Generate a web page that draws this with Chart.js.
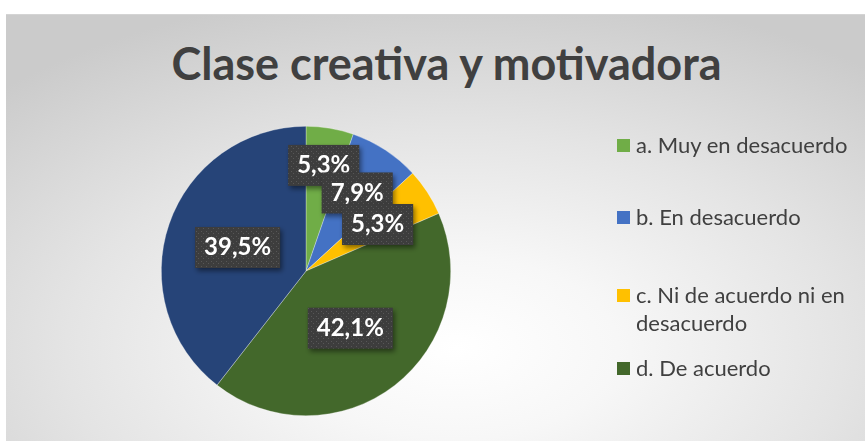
<!DOCTYPE html>
<html>
<head>
<meta charset="utf-8">
<script src="https://cdn.jsdelivr.net/npm/chart.js@4.4.1/dist/chart.umd.min.js"></script>
<style>
  html, body { margin: 0; padding: 0; background: #fff; }
  #wrap { position: relative; width: 865px; height: 441px; overflow: hidden; }
  #frame {
    position: absolute; left: 6px; top: 14px; width: 865px; height: 427px;
    background: radial-gradient(ellipse 75% 85% at 52% 78%, #ffffff 0%, #f7f7f7 25%, #e4e4e4 60%, #cbcbcb 100%);
    border-top: 1px solid #d4d4d4;
  }
  #title {
    position: absolute; left: 14px; width: 865px; top: 35px; text-align: center;
    font: bold 45px Lato, "Open Sans", sans-serif; color: #404040; line-height: 56px;
  }
  #legend { position: absolute; left: 617px; top: 0; }
  .item { position: absolute; left: 0; width: 250px; font: 22px Lato, sans-serif; color: #404040; line-height: 28px; }
  .item span.box { position: absolute; left: 0; top: 8px; width: 13px; height: 13px; }
  .item span.txt { display: block; padding-left: 19px; }
  canvas { position: absolute; left: 0; top: 0; }
</style>
</head>
<body>
<div id="wrap">
  <div id="frame"></div>
  <div id="title">Clase creativa y motivadora</div>
  <canvas id="graphic" width="865" height="441"></canvas>
  <div id="legend"></div>
</div>
<script>
// categories and values (percent)
const categories = ["a. Muy en desacuerdo", "b. En desacuerdo", "c. Ni de acuerdo ni en desacuerdo", "d. De acuerdo", "e. Muy de acuerdo"];
const percentages = [5.3, 7.9, 5.3, 42.1, 39.5];
const sliceColors = ["#70AD47", "#4472C4", "#FFC000", "#43682B", "#264478"];

// how far out each label sits (fraction of radius), like Excel's best fit
const labelRadius = [0.74, 0.645, 0.59, 0.5, 0.5];
// legend: only the first four entries fit in the box
const legendTops = [131, 203, 281, 354];

// build the html legend
const legendDiv = document.getElementById("legend");
for (let i = 0; i < legendTops.length; i++) {
    const item = document.createElement("div");
    item.className = "item";
    item.style.top = legendTops[i] + "px";
    item.innerHTML = '<span class="box" style="background:' + sliceColors[i] + '"></span><span class="txt">' + categories[i] + '</span>';
    legendDiv.append(item);
}

// dotted dark pattern for the label boxes
function makePattern(ctx) {
    const p = document.createElement("canvas");
    p.width = 5; p.height = 5;
    const pc = p.getContext("2d");
    pc.fillStyle = "#3d3d3d";
    pc.fillRect(0, 0, 5, 5);
    pc.fillStyle = "#575757";
    pc.fillRect(1, 1, 1, 1);
    pc.fillRect(3, 3, 1, 1);
    return ctx.createPattern(p, "repeat");
}

const boxLabels = {
    id: "boxLabels",
    afterDatasetsDraw(chart) {
        const ctx = chart.ctx;
        const meta = chart.getDatasetMeta(0);
        const pattern = makePattern(ctx);
        ctx.save();
        ctx.font = "bold 24px Lato, sans-serif";
        ctx.textAlign = "center";
        ctx.textBaseline = "middle";
        meta.data.forEach((arc, i) => {
            const mid = (arc.startAngle + arc.endAngle) / 2;
            const r = arc.outerRadius * labelRadius[i];
            const x = arc.x + Math.cos(mid) * r;
            const y = arc.y + Math.sin(mid) * r;
            const text = percentages[i].toFixed(1).replace(".", ",") + "%";
            const w = ctx.measureText(text).width + 18;
            const h = 41;
            ctx.shadowColor = "rgba(0,0,0,0.45)";
            ctx.shadowBlur = 5;
            ctx.shadowOffsetX = 2;
            ctx.shadowOffsetY = 3;
            ctx.fillStyle = pattern;
            ctx.fillRect(x - w / 2, y - h / 2, w, h);
            ctx.shadowColor = "transparent";
            ctx.fillStyle = "#ffffff";
            ctx.fillText(text, x, y);
        });
        ctx.restore();
    }
};

const config = {
    type: "pie",
    data: {
        labels: categories,
        datasets: [{
            data: percentages,
            backgroundColor: sliceColors,
            borderColor: "rgba(255,255,255,0.5)",
            borderWidth: 0.6
        }]
    },
    options: {
        responsive: false,
        animation: false,
        layout: { padding: { left: 161, right: 414, top: 126, bottom: 25 } },
        plugins: {
            legend: { display: false },
            tooltip: { enabled: false }
        }
    },
    plugins: [boxLabels]
};

new Chart(document.getElementById("graphic"), config);
</script>
</body>
</html>
